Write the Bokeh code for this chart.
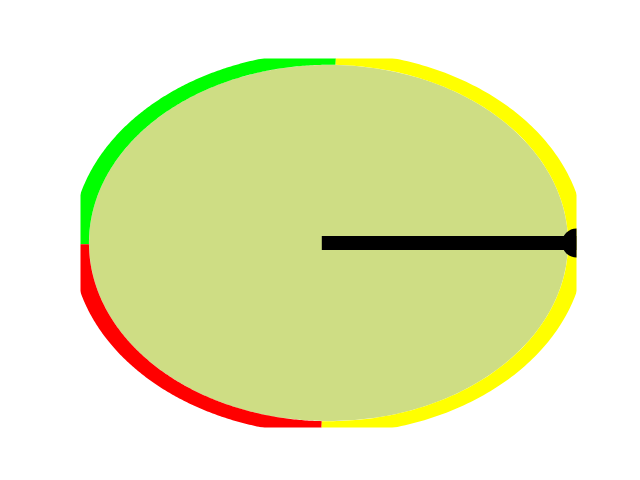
import numpy as np
from bokeh.plotting import figure
from bokeh.models import ColumnDataSource, Range1d
from bokeh.embed import file_html
from bokeh.resources import INLINE

# Gauge sections (angles in degrees, counter-clockwise from the +x axis)
section_names = ["green", "red", "yellow"]
section_colors = ["#00ff00", "#ff0000", "#ffff00"]
section_start = [88.3, 180.4, 268.4]
section_end = [180.4, 268.4, 448.3]

gauge_inner = 0.966
gauge_outer = 1.035
face_color = "#cedd84"

needle_angle = [0.0]      # needle points at 0 degrees
needle_tail = [-0.027]

p = figure(width=640, height=480, output_backend="svg", toolbar_location=None,
           x_range=Range1d(-1, 1), y_range=Range1d(-1, 1),
           min_border_left=80, min_border_right=64, min_border_top=58, min_border_bottom=53)
p.axis.visible = False
p.grid.visible = False
p.outline_line_color = None
p.background_fill_color = "white"
p.border_fill_color = "white"

# face
p.ellipse(x=[0], y=[0], width=[2 * gauge_inner], height=[2 * gauge_inner],
          fill_color=face_color, line_color=None)

# coloured bands
xs, ys = [], []
for a0, a1 in zip(section_start, section_end):
    t = np.radians(np.linspace(a0, a1, 200))
    ox, oy = gauge_outer * np.cos(t), gauge_outer * np.sin(t)
    ix, iy = gauge_inner * np.cos(t[::-1]), gauge_inner * np.sin(t[::-1])
    xs.append(list(np.concatenate([ox, ix])))
    ys.append(list(np.concatenate([oy, iy])))
src = ColumnDataSource(dict(xs=xs, ys=ys, color=section_colors, name=section_names))
p.patches("xs", "ys", source=src, fill_color="color", line_color=None)

# needle
ang = np.radians(needle_angle[0])
tip_x, tip_y = float(np.cos(ang)), float(np.sin(ang))
p.line(x=[needle_tail[0], tip_x], y=[0, tip_y], line_width=14, line_color="black", line_cap="butt")
p.scatter(x=[tip_x], y=[tip_y], size=29, fill_color="black", line_color=None)

open("out.html", "w").write(file_html(p, INLINE))
